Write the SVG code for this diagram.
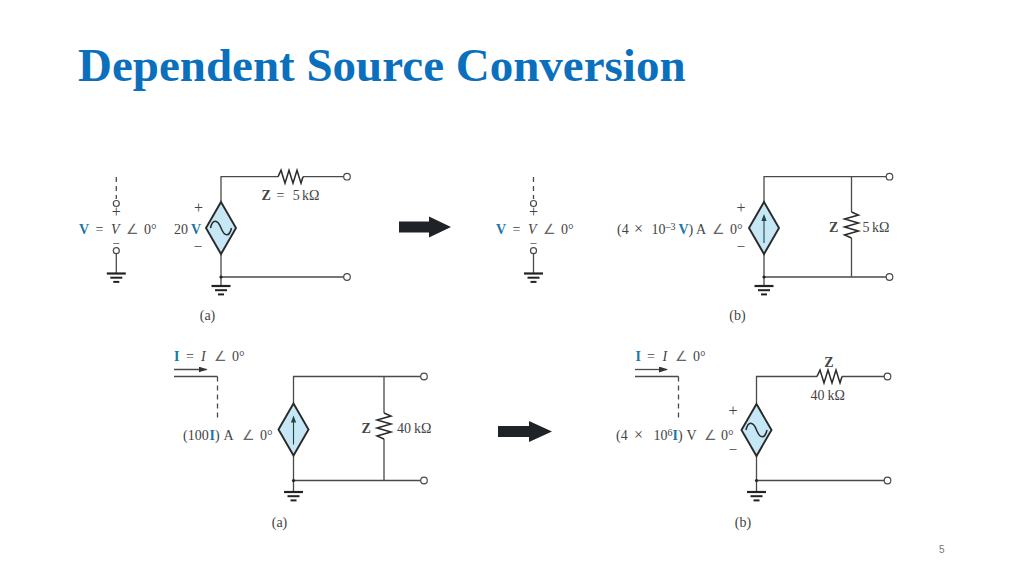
<svg xmlns="http://www.w3.org/2000/svg" xmlns:xlink="http://www.w3.org/1999/xlink" width="1024" height="576" viewBox="0 0 1024 576">
<style>
text{font-family:"Liberation Serif","Times New Roman",serif;font-size:14px;fill:#444}
.b{font-weight:bold}
.c{fill:#1c77a6;font-weight:bold}
.i{font-style:italic}
.m{text-anchor:middle}
.p{font-size:16px}
.n{font-size:12px}
.a{font-size:14px;fill:#666}
.x{font-size:16px}
.u{font-size:10px}
.w{fill:none;stroke:#4a4a4a;stroke-width:1.3}
.d{stroke-dasharray:5 4}
.t{fill:#fff;stroke:#4a4a4a;stroke-width:1.2}
.g{stroke:#222;fill:none}
.s{fill:#c6e7f5;stroke:#2a2a2a;stroke-width:1.9}
.r{fill:none;stroke:#2a2a2a;stroke-width:1.5;stroke-linejoin:miter}
.q{fill:none;stroke:#2a2a2a;stroke-width:1.5}
#title{font-size:47px;font-weight:bold;fill:#0a70bd}
#pg{font-family:"Liberation Sans",Arial,sans-serif;font-size:10px;fill:#777}
</style>
<defs>
<g id="gnd"><path class="g" stroke-width="2.200" d="M-9.500 0H9.500"/><path class="g" stroke-width="2" d="M-6 4.200H6"/><path class="g" stroke-width="2" d="M-3 8.400H3"/></g>
<g id="ac"><path class="s" d="M0-26L15 0L0 26L-15 0Z"/><path class="q" d="M-10.500 0C-8.500-9-3.500-9 0 0C3.500 9 8.500 9 10.500 0"/></g>
<g id="cs"><path class="s" d="M0-26L15 0L0 26L-15 0Z"/><path fill="none" stroke="#244" stroke-width="1.100" d="M0 15V-10"/><path fill="#244" d="M0-14L2.600-7H-2.600Z"/></g>
<path id="rh" class="r" d="M0 0L3 -6.500L7 6.500L11 -6.500L15 6.500L19 -6.500L23 6.500L25 0"/>
<path id="rv" class="r" d="M0 0L7 3L-7 7L7 11L-7 15L7 19L-7 23L0 26"/>
<marker id="ah" markerWidth="9" markerHeight="6" refX="8" refY="3" orient="auto" markerUnits="userSpaceOnUse"><path d="M0 0L9 3L0 6Z" fill="#333"/></marker>
<path id="big" d="M0-5.500H30V-10.500L52 0L30 10.500V5.500H0Z" fill="#1f2328"/>
<path id="big2" d="M0-5.500H31V-10.500L54 0L31 10.500V5.500H0Z" fill="#1f2328"/>
</defs>
<rect width="1024" height="576" fill="#fff"/>
<text id="title" x="78" y="81">Dependent Source Conversion</text>
<g id="connectors">
<path class="w d" d="M116.300 177V199"/><path class="w" d="M116.300 254V273"/>
<path class="w" d="M221 202V176.700H278M303 176.700H344M221 254V286M221 277H344"/>
<path class="w d" d="M533.500 177V199"/><path class="w" d="M533.500 254V273"/>
<path class="w" d="M764 202V176.700H886M851.500 176.700V212M851.500 238V277M764 254V286M764 277H886"/>
<path class="w" d="M174 376.500H217.500"/><path class="w d" d="M217.500 376.500V421"/>
<path class="w" d="M293.500 403V376.500H421M384 376.500V413M384 439V480.500M293.500 456V492M293.500 480.500H421"/>
<path class="w" d="M174 369.500H206.500" marker-end="url(#ah)"/>
<path class="w" d="M635 376.500H678.500"/><path class="w d" d="M678.500 376.500V421"/>
<path class="w" d="M756.500 403V376.500H817M842 376.500H884M756.500 456V492M756.500 480.500H884"/>
<path class="w" d="M635 369.500H667" marker-end="url(#ah)"/>
</g>
<g id="a1-input">
<circle class="t" cx="116.300" cy="203.500" r="3"/><circle class="t" cx="116.300" cy="250.700" r="3"/>
<use xlink:href="#gnd" x="116.300" y="273.500"/>
<text class="m p" x="116.300" y="217">+</text>
<text class="m n" x="116.300" y="246">–</text>
<text y="234"><tspan class="c" x="79">V</tspan><tspan x="95.500">=</tspan><tspan class="i" x="111">V</tspan><tspan class="a" x="126">∠</tspan><tspan x="144">0°</tspan></text>
</g>
<g id="a1-source">
<use xlink:href="#ac" x="221" y="228"/><circle cx="221" cy="277" r="1.600" fill="#222"/>
<use xlink:href="#gnd" x="221" y="286"/>
<use xlink:href="#rh" x="278" y="176.700"/>
<circle class="t" cx="347" cy="176.700" r="3.300"/><circle class="t" cx="347" cy="277" r="3.300"/>
<text class="m p" x="198.500" y="213">+</text><text class="m" x="198" y="249.500">–</text>
<text y="234"><tspan x="174">20</tspan><tspan class="c" x="191">V</tspan></text>
<text y="200"><tspan class="b" x="261.500">Z</tspan><tspan x="276.500">=</tspan><tspan x="292.700">5</tspan><tspan x="302">kΩ</tspan></text>
<text class="m" x="207.500" y="320">(a)</text>
</g>
<g id="arrow1"><use xlink:href="#big" x="399" y="227"/></g>
<g id="b1-input">
<circle class="t" cx="533.500" cy="203.500" r="3"/><circle class="t" cx="533.500" cy="250.700" r="3"/>
<use xlink:href="#gnd" x="533.500" y="273.500"/>
<text class="m p" x="533.500" y="217">+</text>
<text class="m n" x="533.500" y="246">–</text>
<text y="234"><tspan class="c" x="496">V</tspan><tspan x="512.500">=</tspan><tspan class="i" x="528">V</tspan><tspan class="a" x="543">∠</tspan><tspan x="561">0°</tspan></text>
</g>
<g id="b1-source">
<use xlink:href="#cs" x="764" y="228"/><circle cx="764" cy="277" r="1.600" fill="#222"/>
<use xlink:href="#gnd" x="764" y="286"/>
<use xlink:href="#rv" x="851.500" y="212"/>
<circle class="t" cx="889.500" cy="176.700" r="3.300"/><circle class="t" cx="889.500" cy="277" r="3.300"/>
<text class="m p" x="741" y="213">+</text><text class="m" x="741" y="249.500">–</text>
<text y="234"><tspan x="617">(4</tspan><tspan class="x" x="634">×</tspan><tspan x="651.500">10</tspan><tspan class="u" x="665.500" dy="-4">–3</tspan><tspan class="c" x="678.500" dy="4">V</tspan><tspan x="688.500">)</tspan><tspan x="696">A</tspan><tspan class="a" x="712">∠</tspan><tspan x="730">0°</tspan></text>
<text x="829" y="232" class="b">Z</text><text x="862.500" y="232"><tspan>5</tspan><tspan x="872">kΩ</tspan></text>
<text class="m" x="737.500" y="320">(b)</text>
</g>
<g id="arrow2"><use xlink:href="#big2" x="498" y="431.500"/></g>
<g id="a2-source">
<text y="360.500"><tspan class="c" x="174">I</tspan><tspan x="186">=</tspan><tspan class="i" x="201">I</tspan><tspan class="a" x="214">∠</tspan><tspan x="232">0°</tspan></text>
<use xlink:href="#cs" x="293.500" y="429.500"/><circle cx="293.500" cy="480.500" r="1.600" fill="#222"/>
<use xlink:href="#gnd" x="293.500" y="492"/>
<use xlink:href="#rv" x="384" y="413"/>
<circle class="t" cx="424" cy="376.500" r="3.300"/><circle class="t" cx="424" cy="480.500" r="3.300"/>
<text y="440"><tspan x="183">(100</tspan><tspan class="c" x="209.500">I</tspan><tspan x="215">)</tspan><tspan x="223.500">A</tspan><tspan class="a" x="242">∠</tspan><tspan x="260">0°</tspan></text>
<text x="361.500" y="433" class="b">Z</text><text y="433"><tspan x="397">40</tspan><tspan x="414">kΩ</tspan></text>
<text class="m" x="279.500" y="527">(a)</text>
</g>
<g id="b2-source">
<text y="360.500"><tspan class="c" x="635.500">I</tspan><tspan x="647">=</tspan><tspan class="i" x="662.500">I</tspan><tspan class="a" x="675">∠</tspan><tspan x="693">0°</tspan></text>
<use xlink:href="#ac" x="756.500" y="430"/><circle cx="756.500" cy="480.500" r="1.600" fill="#222"/>
<use xlink:href="#gnd" x="756.500" y="492"/>
<use xlink:href="#rh" x="817" y="376.500"/>
<circle class="t" cx="887.500" cy="376.500" r="3.300"/><circle class="t" cx="887.500" cy="480.500" r="3.300"/>
<text class="m p" x="733" y="415.500">+</text><text class="m" x="733" y="453">–</text>
<text y="440"><tspan x="616">(4</tspan><tspan class="x" x="634">×</tspan><tspan x="653.500">10</tspan><tspan class="u" x="667.500" dy="-4">6</tspan><tspan class="c" x="672.500" dy="4">I</tspan><tspan x="678">)</tspan><tspan x="686.500">V</tspan><tspan class="a" x="703.500">∠</tspan><tspan x="721">0°</tspan></text>
<text class="b m" x="829" y="367">Z</text><text y="400"><tspan x="810.500">40</tspan><tspan x="827.500">kΩ</tspan></text>
<text class="m" x="743" y="527">(b)</text>
</g>
<text id="pg" x="939" y="553">5</text>
</svg>
